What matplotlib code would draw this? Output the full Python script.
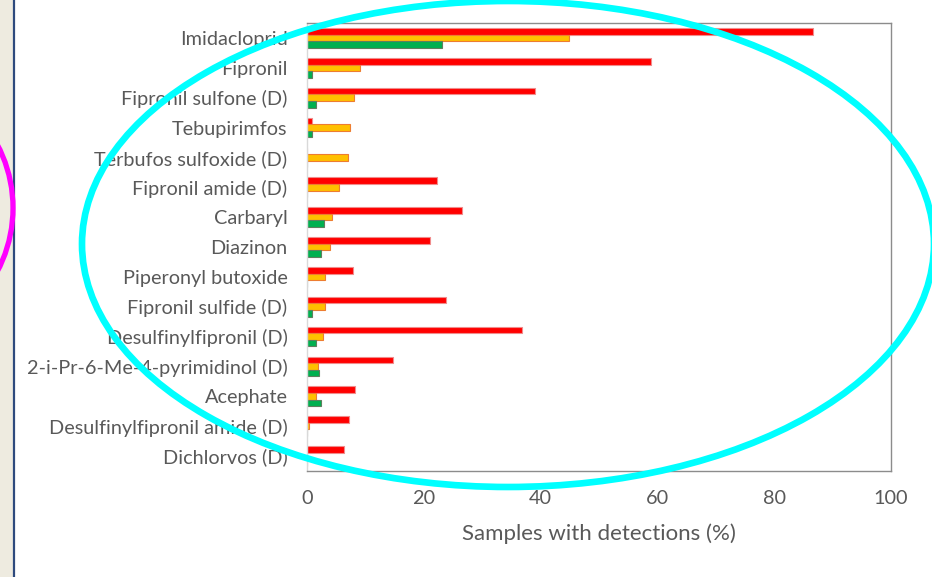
import matplotlib
matplotlib.use('Agg')
import matplotlib.pyplot as plt
from matplotlib.patches import Ellipse, Rectangle
from matplotlib.lines import Line2D
import numpy as np

# data (% of samples with detections)
compounds = ['Imidacloprid', 'Fipronil', 'Fipronil sulfone (D)', 'Tebupirimfos',
             'Terbufos sulfoxide (D)', 'Fipronil amide (D)', 'Carbaryl', 'Diazinon',
             'Piperonyl butoxide', 'Fipronil sulfide (D)', 'Desulfinylfipronil (D)',
             '2-i-Pr-6-Me-4-pyrimidinol (D)', 'Acephate', 'Desulfinylfipronil amide (D)',
             'Dichlorvos (D)']
red_vals = [86.6, 58.9, 39.0, 0.8, 0, 22.2, 26.6, 21.0, 7.8, 23.8, 36.8, 14.7, 8.3, 7.2, 6.4]
orange_vals = [44.9, 9.1, 8.0, 7.3, 7.1, 5.5, 4.2, 3.9, 3.1, 3.0, 2.8, 1.8, 1.5, 0.4, 0]
green_vals = [23.1, 0.9, 1.5, 0.8, 0, 0, 2.9, 2.4, 0, 0.8, 1.5, 2.0, 2.4, 0, 0]
xticks = [0, 20, 40, 60, 80, 100]

W, H = 932, 577
fig = plt.figure(figsize=(W / 100, H / 100), dpi=100)
fig.patch.set_facecolor('white')

# slide background strip on the left
fig.add_artist(Rectangle((0, 0), 13 / W, 1, transform=fig.transFigure,
                         facecolor='#EEEBE0', edgecolor='none', zorder=0))
fig.add_artist(Line2D([13.5 / W, 13.5 / W], [0, 1], transform=fig.transFigure,
                      color='#2E4A7D', lw=1.6, zorder=1))

ax = fig.add_axes([307 / W, 1 - 471 / H, 584 / W, 448 / H])
y = np.arange(len(compounds))
h = 0.22
ax.barh(y - h, red_vals, height=h, color='#FF0000', edgecolor='#F08C8C', linewidth=0.8)
ax.barh(y, orange_vals, height=h, color='#FFC000', edgecolor='#ED7D31', linewidth=0.8)
ax.barh(y + h, green_vals, height=h, color='#00B050', edgecolor='#5E7F5E', linewidth=0.8)

ax.set_xlim(0, 100)
ax.set_ylim(len(compounds) - 0.5, -0.5)
ax.set_xticks(xticks)
ax.set_yticks(y)
ax.set_yticklabels(compounds)
ax.tick_params(axis='both', length=0, labelsize=14.3, labelcolor='#595959', pad=14)
for lab in ax.get_xticklabels() + ax.get_yticklabels():
    lab.set_family('Lato')
for side in ['top', 'right', 'bottom']:
    ax.spines[side].set_color('#8C8C8C')
    ax.spines[side].set_linewidth(1.0)
ax.spines['left'].set_color('#D9D9D9')
ax.spines['left'].set_linewidth(1.0)

fig.text(599 / W, 1 - 534 / H, 'Samples with detections (%)', ha='center', va='center',
         fontsize=16, color='#595959', family='Lato')

# annotations drawn on the slide
fig.add_artist(Ellipse((508 / W, 1 - 244 / H), 852 / W, 486 / H, transform=fig.transFigure,
                       fill=False, edgecolor='#00FFFF', lw=4.8, zorder=10))
fig.add_artist(Ellipse((-123 / W, 1 - 208 / H), 272 / W, 272 / H, transform=fig.transFigure,
                       fill=False, edgecolor='#FF00FF', lw=3.8, zorder=10))

fig.savefig('out.png', dpi=100)
